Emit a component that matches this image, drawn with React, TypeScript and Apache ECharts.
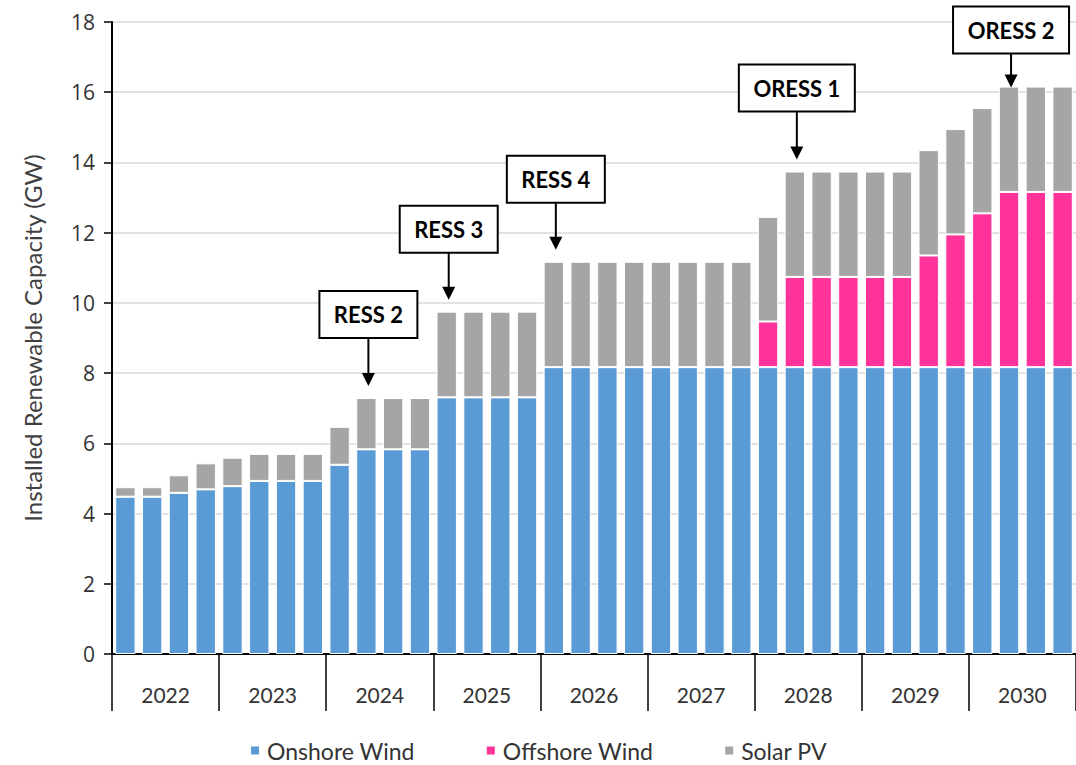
import React, { useEffect, useRef } from "react";
import * as echarts from "echarts";

const years = ["2022", "2023", "2024", "2025", "2026", "2027", "2028", "2029", "2030"];
const quarters = years.flatMap((y) => ["Q1", "Q2", "Q3", "Q4"].map((q) => `${y} ${q}`));

const onshoreWind = [
  4.48, 4.48, 4.59, 4.69,
  4.78, 4.93, 4.93, 4.93,
  5.39, 5.83, 5.83, 5.83,
  7.31, 7.31, 7.31, 7.31,
  8.17, 8.17, 8.17, 8.17,
  8.17, 8.17, 8.17, 8.17,
  8.17, 8.17, 8.17, 8.17,
  8.17, 8.17, 8.17, 8.17,
  8.17, 8.17, 8.17, 8.17,
];
const offshoreWind = [
  0, 0, 0, 0,
  0, 0, 0, 0,
  0, 0, 0, 0,
  0, 0, 0, 0,
  0, 0, 0, 0,
  0, 0, 0, 0,
  1.3, 2.57, 2.57, 2.57,
  2.57, 2.57, 3.18, 3.78,
  4.38, 4.99, 4.99, 4.99,
];
const solarPV = [
  0.27, 0.27, 0.5, 0.74,
  0.81, 0.77, 0.77, 0.77,
  1.08, 1.46, 1.46, 1.46,
  2.44, 2.44, 2.44, 2.44,
  3.0, 3.0, 3.0, 3.0,
  3.0, 3.0, 3.0, 3.0,
  2.98, 3.0, 3.0, 3.0,
  3.0, 3.0, 3.0, 3.0,
  3.0, 3.0, 3.0, 3.0,
];

const seriesNames = ["Onshore Wind", "Offshore Wind", "Solar PV"];
const seriesColors = ["#5B9BD5", "#FF3399", "#A5A5A5"];

const annotationLabels = ["RESS 2", "RESS 3", "RESS 4", "ORESS 1", "ORESS 2"];
const annotationQuarters = ["2024 Q2", "2025 Q1", "2026 Q1", "2028 Q2", "2030 Q2"];
const annotationStems = [48, 47, 47, 48, 34];
const annotationGaps = [12, 12, 12, 12, -1];

const yTicks = [0, 2, 4, 6, 8, 10, 12, 14, 16, 18];

export default function App() {
  const ref = useRef<HTMLDivElement>(null);

  useEffect(() => {
    document.body.style.margin = "0";
    if (!ref.current) return;
    const chart = echarts.init(ref.current, null, { renderer: "svg" });

    const canvas = document.createElement("canvas");
    const ctx = canvas.getContext("2d");
    const annFont = "bold 22px Lato";
    const measure = (t: string) => {
      if (ctx) {
        ctx.font = annFont;
        return ctx.measureText(t).width;
      }
      return t.length * 12;
    };

    const totals = quarters.map((_, i) => onshoreWind[i] + offshoreWind[i] + solarPV[i]);
    const annData = annotationLabels.map((label, k) => {
      const idx = quarters.indexOf(annotationQuarters[k]);
      return [idx, totals[idx], k];
    });

    const barSeries = [onshoreWind, offshoreWind, solarPV].map((d, i) => ({
      name: seriesNames[i],
      type: "bar",
      stack: "total",
      data: d,
      barCategoryGap: "24%",
      itemStyle: { color: seriesColors[i], borderColor: "#ffffff", borderWidth: 1 },
    }));

    chart.setOption({
      animation: false,
      grid: { left: 112, right: 0, top: 22, bottom: 111, containLabel: false },
      legend: {
        data: seriesNames,
        top: 734,
        left: "center",
        itemWidth: 10,
        itemHeight: 10,
        itemGap: 70,
        icon: "rect",
        textStyle: { fontFamily: "Lato", fontSize: 23, color: "#333333", padding: [0, 0, 0, 2] },
      },
      xAxis: [
        {
          type: "category",
          data: quarters,
          position: "bottom",
          axisLine: { show: true, lineStyle: { color: "#000000", width: 2 } },
          axisTick: { show: false },
          axisLabel: { show: false },
          splitLine: { show: false },
        },
        {
          type: "category",
          data: years,
          position: "bottom",
          axisLine: { show: false },
          axisTick: { show: true, length: 57, interval: 0, lineStyle: { color: "#000000", width: 1.5 } },
          axisLabel: {
            show: true,
            interval: 0,
            margin: 30,
            fontFamily: "Lato",
            fontSize: 21,
            color: "#333333",
          },
          splitLine: { show: false },
        },
      ],
      yAxis: {
        type: "value",
        min: 0,
        max: 18,
        interval: 2,
        name: "Installed Renewable Capacity (GW)",
        nameLocation: "middle",
        nameRotate: 90,
        nameGap: 68,
        nameTextStyle: { fontFamily: "Lato", fontSize: 24, color: "#404040" },
        axisLine: { show: true, lineStyle: { color: "#000000", width: 2 } },
        axisTick: { show: true, length: 8, lineStyle: { color: "#000000", width: 1.5 } },
        axisLabel: {
          margin: 17,
          fontFamily: "Open Sans",
          fontSize: 21,
          color: "#333333",
          formatter: (v: number) => (yTicks.includes(v) ? String(v) : ""),
        },
        splitLine: { show: true, lineStyle: { color: "#D9D9D9", width: 1.5 } },
      },
      series: [
        ...barSeries,
        {
          type: "custom",
          name: "annotations",
          clip: false,
          z: 10,
          data: annData,
          renderItem: (params: any, api: any) => {
            const idx = api.value(0);
            const total = api.value(1);
            const k = api.value(2);
            const label = annotationLabels[k];
            const p = api.coord([idx, total]);
            const x = p[0] + 2;
            const tipY = p[1] - annotationGaps[k];
            const stemTop = tipY - annotationStems[k];
            const headH = 13;
            const headW = 13;
            const boxW = Math.round(measure(label) + 29);
            const boxH = 47;
            return {
              type: "group",
              children: [
                {
                  type: "line",
                  shape: { x1: x, y1: stemTop, x2: x, y2: tipY - headH + 1 },
                  style: { stroke: "#000000", lineWidth: 2 },
                },
                {
                  type: "polygon",
                  shape: {
                    points: [
                      [x - headW / 2, tipY - headH],
                      [x + headW / 2, tipY - headH],
                      [x, tipY],
                    ],
                  },
                  style: { fill: "#000000" },
                },
                {
                  type: "rect",
                  shape: { x: x - boxW / 2, y: stemTop - boxH, width: boxW, height: boxH },
                  style: { fill: "#ffffff", stroke: "#000000", lineWidth: 2 },
                },
                {
                  type: "text",
                  x: x,
                  y: stemTop - boxH / 2,
                  style: {
                    text: label,
                    fontFamily: "Lato",
                    fontWeight: "bold",
                    fontSize: 22,
                    fill: "#000000",
                    align: "center",
                    verticalAlign: "middle",
                  },
                },
              ],
            };
          },
        },
      ],
    });

    return () => {
      chart.dispose();
    };
  }, []);

  return <div ref={ref} style={{ width: 1076, height: 765 }} />;
}
